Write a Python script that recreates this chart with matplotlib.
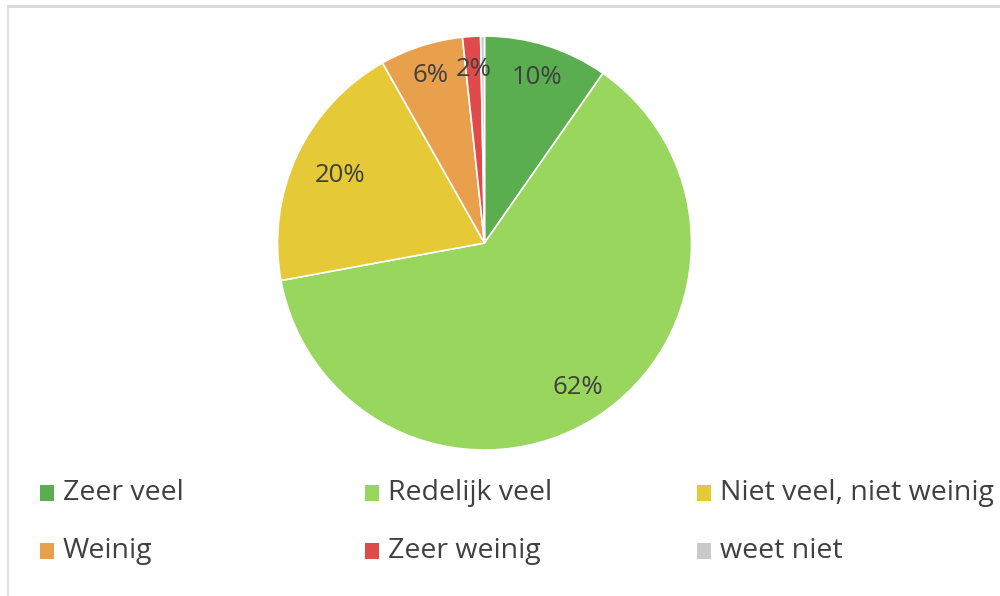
import matplotlib
matplotlib.use("Agg")
import matplotlib.pyplot as plt
from matplotlib.patches import Rectangle
from matplotlib.lines import Line2D
import numpy as np

categories = ["Zeer veel", "Redelijk veel", "Niet veel, niet weinig", "Weinig", "Zeer weinig", "weet niet"]
values = [9.7, 62.4, 19.7, 6.5, 1.4, 0.3]
pct_labels = ["10%", "62%", "20%", "6%", "2%", ""]
colors = ["#5aae4f", "#98d65e", "#e5c937", "#e8a04c", "#e04a4a", "#c9c9c9"]

plt.rcParams['font.family'] = ['Open Sans', 'DejaVu Sans']

W, H = 1000, 596
fig = plt.figure(figsize=(W / 100, H / 100), dpi=100)
fig.patch.set_facecolor("white")

cx, cy, r = 484.5, 243, 207
ax = fig.add_axes([(cx - r) / W, (H - cy - r) / H, 2 * r / W, 2 * r / H])
wedges, _ = ax.pie(values, colors=colors, startangle=90, counterclock=False,
                   radius=1, wedgeprops=dict(edgecolor="white", linewidth=1.2))
ax.set_xlim(-1, 1)
ax.set_ylim(-1, 1)
ax.set_aspect("equal")
ax.axis("off")

dists = [0.84, 0.83, 0.77, 0.85, 0.84, 0.84]
for w, lab, d in zip(wedges, pct_labels, dists):
    if not lab:
        continue
    ang = np.deg2rad((w.theta1 + w.theta2) / 2)
    ax.text(d * np.cos(ang), d * np.sin(ang), lab, ha="center", va="center",
            fontsize=18.5, color="#404040")

# border of the chart area
fig.add_artist(Line2D([8 / W, 1], [1 - 6 / H, 1 - 6 / H], color="#d9d9d9", lw=2, transform=fig.transFigure))
fig.add_artist(Line2D([8 / W, 8 / W], [0, 1 - 6 / H], color="#d9d9d9", lw=1.2, transform=fig.transFigure))

# legend
col_x = [40, 365, 697]
row_y = [493, 551]
for i, (cat, col) in enumerate(zip(categories, colors)):
    x = col_x[i % 3]
    y = row_y[i // 3]
    fig.add_artist(Rectangle((x / W, (H - y - 8) / H), 14 / W, 16 / H,
                             facecolor=col, edgecolor="none", transform=fig.transFigure))
    fig.text((x + 23) / W, (H - y) / H, cat, ha="left", va="center",
             fontsize=20.5, color="#404040")

fig.savefig("out.png", dpi=100, facecolor="white")
